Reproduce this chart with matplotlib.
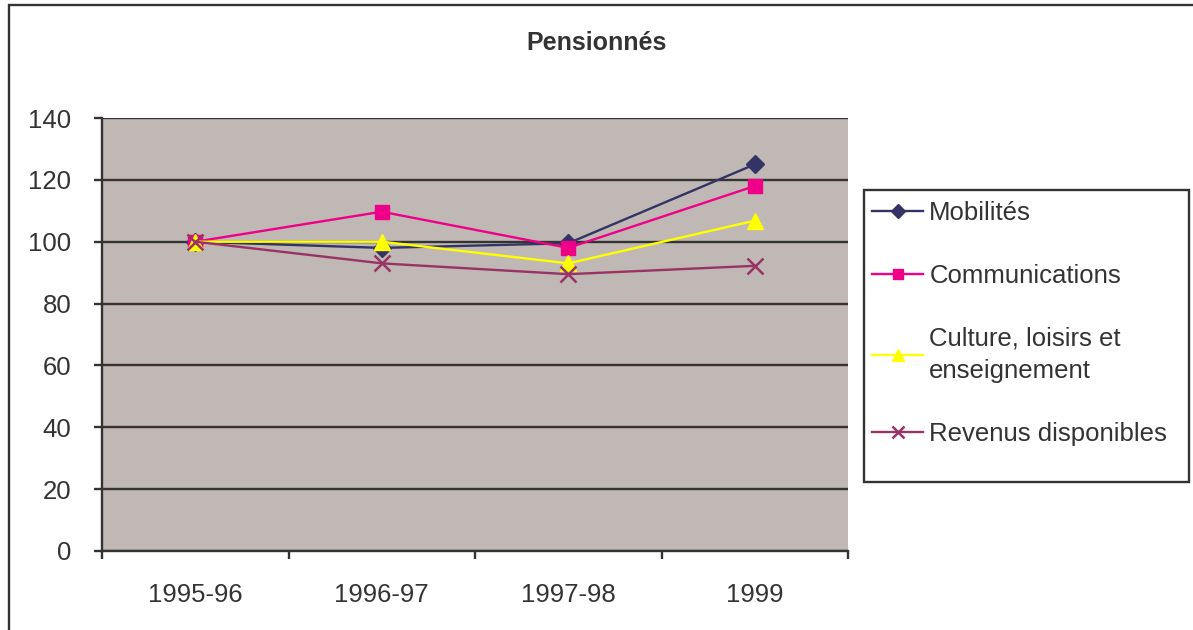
import matplotlib
matplotlib.use("Agg")
import matplotlib.pyplot as plt
from matplotlib.patches import Rectangle

# index values (base 100 = 1995-96)
periods = ["1995-96", "1996-97", "1997-98", "1999"]
mobilites = [100, 98, 99.5, 125]
communications = [100, 109.7, 98, 118]
culture = [100, 100, 93, 106.8]
revenus = [100, 93, 89.5, 92.2]
series_labels = ["Mobilités", "Communications",
                 "Culture, loisirs et\nenseignement", "Revenus disponibles"]

plt.rcParams["font.family"] = ["Liberation Sans", "DejaVu Sans"]
W, H = 1193, 630
dark = "#333333"
fs = 18.5

fig = plt.figure(figsize=(W / 100, H / 100), dpi=100)
ax = fig.add_axes([102 / W, 1 - 551 / H, (848 - 102) / W, (551 - 118) / H])
ax.set_facecolor("#c0b8b5")

x = list(range(len(periods)))
styles = [
    (mobilites, "#333366", "D", 9.5),
    (communications, "#ee0088", "s", 9.5),
    (culture, "#ffff00", "^", 11.5),
    (revenus, "#993366", "x", 11),
]
for (vals, c, m, ms), lab in zip(styles, series_labels):
    ax.plot(x, vals, color=c, lw=1.7, marker=m, ms=ms, mfc=c, mec=c,
            mew=1.8 if m == "x" else 1, label=lab, zorder=3, clip_on=False)

ax.set_ylim(0, 140)
ax.set_yticks(range(0, 141, 20))
ax.set_xlim(-0.5, len(periods) - 0.5)
ax.set_xticks(x)
ax.set_xticklabels(periods)
ax.set_xticks([i - 0.5 for i in range(len(periods) + 1)], minor=True)
ax.yaxis.grid(True, color=dark, lw=1.7)
ax.set_axisbelow(True)
for s in ("top", "right"):
    ax.spines[s].set_visible(False)
for s in ("left", "bottom"):
    ax.spines[s].set_color(dark)
    ax.spines[s].set_linewidth(1.7)
ax.tick_params(axis="y", length=6, width=1.7, color=dark, pad=16, labelsize=fs, labelcolor=dark)
ax.tick_params(axis="x", which="major", length=0, pad=23, labelsize=fs, labelcolor=dark)
ax.tick_params(axis="x", which="minor", length=6, width=1.7, color=dark)

# legend entries without frame; the box is drawn separately (Excel pads it unevenly)
leg = ax.legend(loc="upper left", bbox_to_anchor=(872 / W, 1 - 200.5 / H),
                bbox_transform=fig.transFigure, frameon=False, fontsize=fs,
                handlelength=2.0, handletextpad=0.23, labelspacing=1.52,
                borderpad=0, borderaxespad=0, markerscale=0.8)
for t in leg.get_texts():
    t.set_color(dark)
    t.set_linespacing(1.45)
fig.patches.append(Rectangle((864 / W, 1 - 482 / H), (1189 - 864) / W, (482 - 190) / H,
                             transform=fig.transFigure, fill=False, ec=dark, lw=1.7))

fig.text(0.5, 1 - 43 / H, "Pensionnés", ha="center", va="center",
         fontsize=18, fontweight="bold", color=dark)

# outer chart border (right/bottom edges fall outside the image)
fig.patches.append(Rectangle((9 / W, -0.1), 2, 1.1 - 5 / H, transform=fig.transFigure,
                             fill=False, ec=dark, lw=1.7))

fig.savefig("out.png", dpi=100)
